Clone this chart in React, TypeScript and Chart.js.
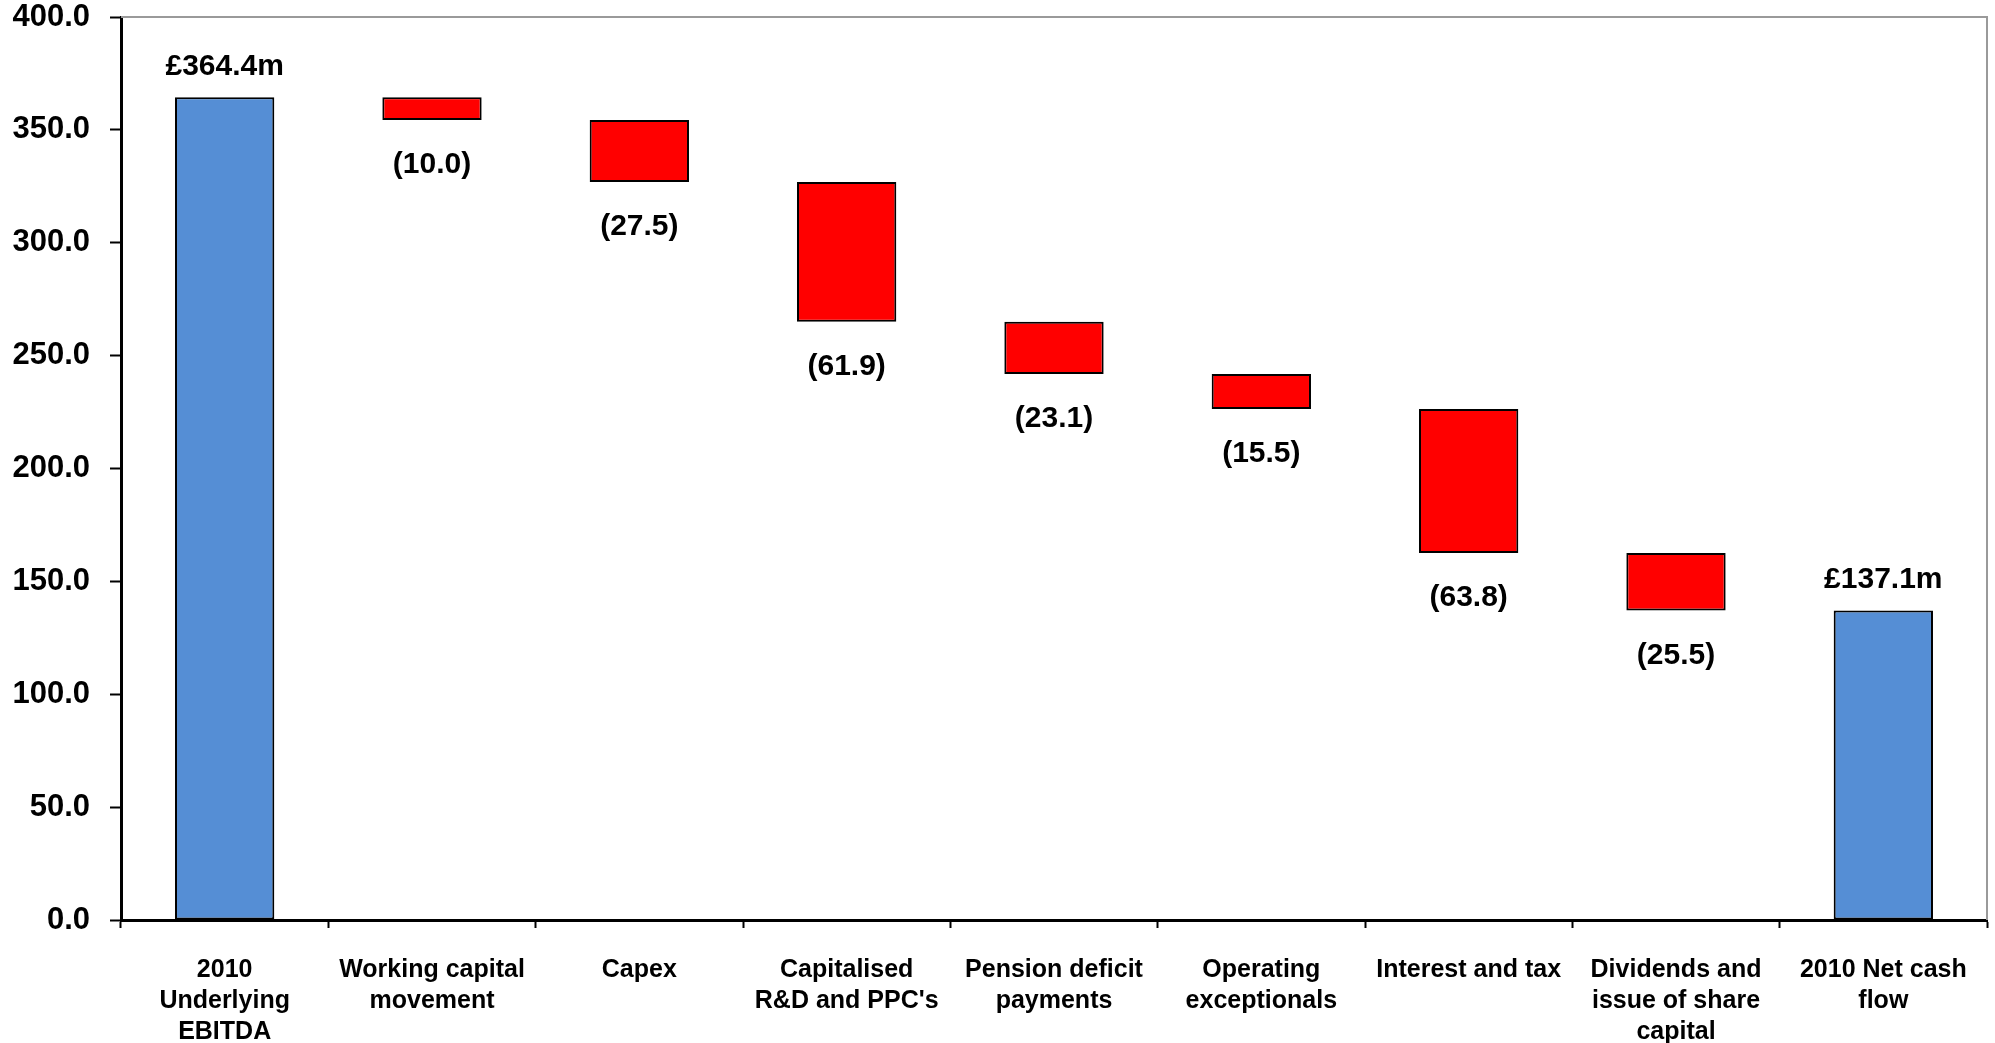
import React, { useEffect, useRef } from "react";
import { Chart, registerables } from "chart.js";

Chart.register(...registerables);

// Cash flow bridge: opening EBITDA, deductions, closing net cash flow (£m)
const categories: (string | string[])[] = [
  ["2010", "Underlying", "EBITDA"],
  ["Working capital", "movement"],
  "Capex",
  ["Capitalised", "R&D and PPC's"],
  ["Pension deficit", "payments"],
  ["Operating", "exceptionals"],
  "Interest and tax",
  ["Dividends and", "issue of share", "capital"],
  ["2010 Net cash", "flow"],
];
const openingValue = 364.4;
const deductions = [10.0, 27.5, 61.9, 23.1, 15.5, 63.8, 25.5];
const closingValue = 137.1;
const yTicks = [0, 50, 100, 150, 200, 250, 300, 350, 400];

const TOTAL_COLOR = "#558ED5";
const STEP_COLOR = "#FF0000";
const FONT = "'Liberation Sans', Arial, Helvetica, sans-serif";

export default function App() {
  const canvasRef = useRef<HTMLCanvasElement | null>(null);

  useEffect(() => {
    document.body.style.margin = "0";
    document.body.style.overflow = "hidden";
    const canvas = canvasRef.current;
    if (!canvas) return;

    // floating ranges for each bar of the bridge
    const ranges: [number, number][] = [[0, openingValue]];
    const labels: string[] = [`£${openingValue.toFixed(1)}m`];
    const colors: string[] = [TOTAL_COLOR];
    const isTotal: boolean[] = [true];
    let level = openingValue;
    deductions.forEach((d) => {
      const next = Math.round((level - d) * 10) / 10;
      ranges.push([next, level]);
      labels.push(`(${d.toFixed(1)})`);
      colors.push(STEP_COLOR);
      isTotal.push(false);
      level = next;
    });
    ranges.push([0, closingValue]);
    labels.push(`£${closingValue.toFixed(1)}m`);
    colors.push(TOTAL_COLOR);
    isTotal.push(true);

    const valueLabels = {
      id: "valueLabels",
      afterDatasetsDraw(chart: any) {
        const ctx = chart.ctx;
        const meta = chart.getDatasetMeta(0);
        ctx.save();
        ctx.font = `bold 30px ${FONT}`;
        ctx.fillStyle = "#000";
        ctx.textAlign = "center";
        ctx.textBaseline = "middle";
        meta.data.forEach((bar: any, i: number) => {
          const top = Math.min(bar.y, bar.base);
          const bottom = Math.max(bar.y, bar.base);
          if (isTotal[i]) {
            ctx.fillText(labels[i], bar.x, top - 31);
          } else {
            ctx.fillText(labels[i], bar.x, bottom + 45);
          }
        });
        ctx.restore();
      },
    };

    const plotFrame = {
      id: "plotFrame",
      beforeDatasetsDraw(chart: any) {
        const { ctx, chartArea } = chart;
        ctx.save();
        ctx.strokeStyle = "#9a9a9a";
        ctx.lineWidth = 2;
        ctx.beginPath();
        ctx.moveTo(chartArea.left, chartArea.top);
        ctx.lineTo(chartArea.right, chartArea.top);
        ctx.lineTo(chartArea.right, chartArea.bottom);
        ctx.stroke();
        ctx.restore();
      },
    };

    const chart = new Chart(canvas, {
      type: "bar",
      data: {
        labels: categories,
        datasets: [
          {
            data: ranges,
            backgroundColor: colors,
            borderColor: "#000",
            borderWidth: 2,
            borderSkipped: false,
            barPercentage: 0.479,
            categoryPercentage: 1,
          },
        ],
      },
      options: {
        animation: false,
        responsive: false,
        maintainAspectRatio: false,
        layout: { padding: { top: 17, right: 8, left: 0, bottom: 0 } },
        plugins: {
          legend: { display: false },
          tooltip: { enabled: false },
        },
        scales: {
          x: {
            grid: {
              display: true,
              offset: true,
              drawOnChartArea: false,
              drawTicks: true,
              tickLength: 8,
              tickColor: "#000",
              tickWidth: 2,
            },
            border: { display: true, color: "#000", width: 3 },
            ticks: {
              color: "#000",
              font: { family: FONT, size: 25, weight: "bold", lineHeight: 1.23 },
              padding: 27,
              maxRotation: 0,
              autoSkip: false,
            },
            afterFit(scale: any) {
              scale.height = 123;
              scale.paddingLeft = 0;
              scale.paddingRight = 0;
            },
          },
          y: {
            min: 0,
            max: 400,
            afterBuildTicks(scale: any) {
              scale.ticks = yTicks.map((v) => ({ value: v }));
            },
            grid: {
              display: true,
              drawOnChartArea: false,
              drawTicks: true,
              tickLength: 11,
              tickColor: "#000",
              tickWidth: 2,
            },
            border: { display: true, color: "#000", width: 3 },
            ticks: {
              color: "#000",
              font: { family: FONT, size: 31, weight: "bold", lineHeight: 1 },
              padding: 20,
              callback: (v: any) => Number(v).toFixed(1),
            },
            afterFit(scale: any) {
              scale.width = 121;
              scale.paddingTop = 0;
              scale.paddingBottom = 0;
            },
          },
        },
      },
      plugins: [plotFrame, valueLabels],
    });

    return () => chart.destroy();
  }, []);

  return (
    <div style={{ width: 1995, height: 1043, background: "#fff" }}>
      <canvas ref={canvasRef} width={1995} height={1043} />
    </div>
  );
}
